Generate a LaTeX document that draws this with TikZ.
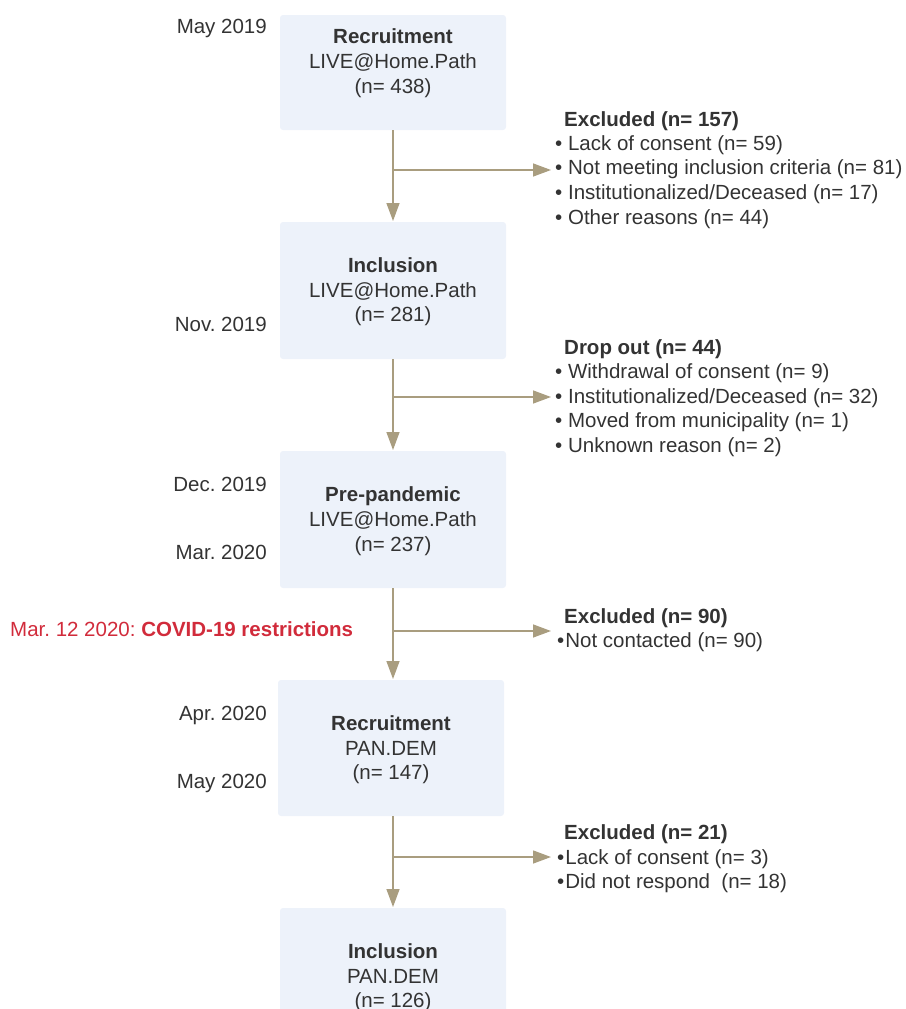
\documentclass[tikz,border=0pt]{standalone}
\usepackage{fontspec}
\setmainfont{Liberation Sans}
\usetikzlibrary{arrows.meta}
\definecolor{boxfill}{HTML}{EDF2FA}
\definecolor{txt}{HTML}{333333}
\definecolor{conncol}{HTML}{A99D7F}
\definecolor{redtxt}{HTML}{D12B3B}
\frenchspacing
\begin{document}
\begin{tikzpicture}[x=1pt,y=-1pt,
  box/.style={fill=boxfill,draw=none,rounded corners=3pt},
  tx/.style={inner sep=0pt,text=txt,font=\fontsize{20.5}{25}\selectfont\frenchspacing},
  ctr/.style={tx,anchor=base},
  lft/.style={tx,anchor=base west},
  rgt/.style={tx,anchor=base east},
  conn/.style={draw=conncol,line width=1.4pt,-{Triangle[length=18pt,width=13pt]}}]
\useasboundingbox (0,0) rectangle (905,1009);
\clip (0,0) rectangle (905,1009);
% boxes
\path[box] (280,15) rectangle (506,130);
\coordinate (b1s) at (393,130);
\path[box] (280,222) rectangle (506,359);
\coordinate (b2n) at (393,221); \coordinate (b2s) at (393,359);
\path[box] (280,451) rectangle (506,588);
\coordinate (b3n) at (393,450); \coordinate (b3s) at (393,588);
\path[box] (278,680) rectangle (504,816);
\coordinate (b4n) at (393,679); \coordinate (b4s) at (393,816);
\path[box] (280,908) rectangle (506,1045);
\coordinate (b5n) at (393,907);
% box texts
\node[ctr] (t1a) at (393,43) {\bfseries Recruitment};
\node[ctr] (t1b) at (393,68) {LIVE@Home.Path};
\node[ctr] (t1c) at (393,93) {(n= 438)};
\node[ctr] (t2a) at (393,272) {\bfseries Inclusion};
\node[ctr] (t2b) at (393,297) {LIVE@Home.Path};
\node[ctr] (t2c) at (393,321) {(n= 281)};
\node[ctr] (t3a) at (393,501) {\bfseries Pre-pandemic};
\node[ctr] (t3b) at (393,526) {LIVE@Home.Path};
\node[ctr] (t3c) at (393,551) {(n= 237)};
\node[ctr] (t4a) at (391,730) {\bfseries Recruitment};
\node[ctr] (t4b) at (391,755) {PAN.DEM};
\node[ctr] (t4c) at (391,779) {(n= 147)};
\node[ctr] (t5a) at (393,958) {\bfseries Inclusion};
\node[ctr] (t5b) at (393,983) {PAN.DEM};
\node[ctr] (t5c) at (393,1007) {(n= 126)};
% dates
\node[rgt] (d1) at (267,33) {May 2019};
\node[rgt] (d2) at (267,331) {Nov. 2019};
\node[rgt] (d3) at (267,491) {Dec. 2019};
\node[rgt] (d4) at (267,559) {Mar. 2020};
\node[rgt] (d5) at (267,720) {Apr. 2020};
\node[rgt] (d6) at (267,788) {May 2020};
\node[lft,text=redtxt] (covid) at (10,636) {Mar. 12 2020: \bfseries COVID-19 restrictions};
% lists
\node[lft] (e1t) at (564,126) {\bfseries Excluded (n= 157)};
\node[lft] (e1a) at (555,150) {• Lack of consent (n= 59)};
\node[lft] (e1b) at (555,174.5) {• Not meeting inclusion criteria (n= 81)};
\node[lft] (e1c) at (555,199) {• Institutionalized/Deceased (n= 17)};
\node[lft] (e1d) at (555,224) {• Other reasons (n= 44)};
\node[lft] (e2t) at (564,354) {\bfseries Drop out (n= 44)};
\node[lft] (e2a) at (555,378) {• Withdrawal of consent (n= 9)};
\node[lft] (e2b) at (555,403) {• Institutionalized/Deceased (n= 32)};
\node[lft] (e2c) at (555,427) {• Moved from municipality (n= 1)};
\node[lft] (e2d) at (555,452) {• Unknown reason (n= 2)};
\node[lft] (e3t) at (564,623) {\bfseries Excluded (n= 90)};
\node[lft] (e3a) at (557,647) {•\kern1pt Not contacted (n= 90)};
\node[lft] (e4t) at (564,839) {\bfseries Excluded (n= 21)};
\node[lft] (e4a) at (557,864) {•\kern1pt Lack of consent (n= 3)};
\node[lft] (e4b) at (557,888) {•\kern1pt Did not respond\ \ (n= 18)};
% junctions and arrow ends
\coordinate (j1) at (393,170); \coordinate (a1) at (551,170);
\coordinate (j2) at (393,397); \coordinate (a2) at (551,397);
\coordinate (j3) at (393,631); \coordinate (a3) at (551,631);
\coordinate (j4) at (393,857); \coordinate (a4) at (551,857);
% connectors
\draw[conn] (b1s) -- (b2n);
\draw[conn] (j1) -- (a1);
\draw[conn] (b2s) -- (b3n);
\draw[conn] (j2) -- (a2);
\draw[conn] (b3s) -- (b4n);
\draw[conn] (j3) -- (a3);
\draw[conn] (b4s) -- (b5n);
\draw[conn] (j4) -- (a4);
\end{tikzpicture}
\end{document}
